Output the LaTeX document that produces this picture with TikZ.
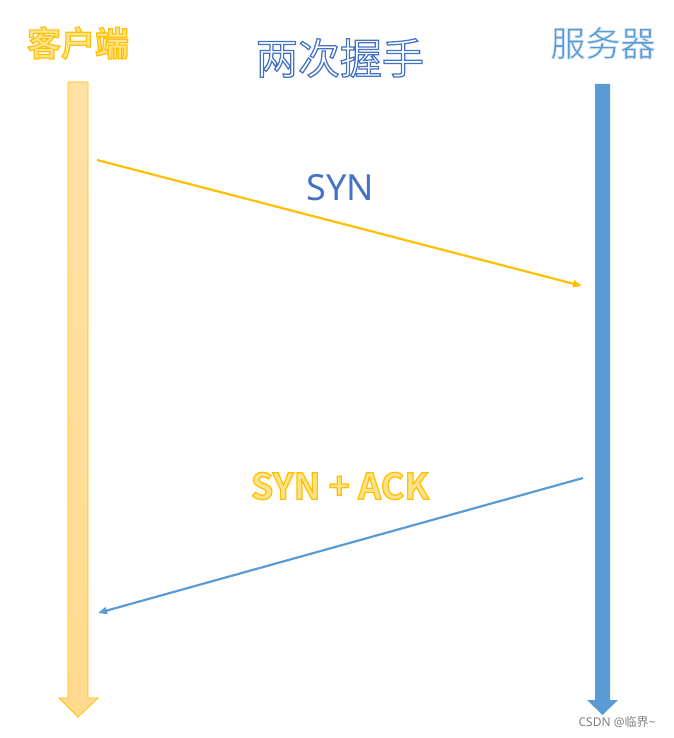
\documentclass[tikz,border=0pt]{standalone}
\usepackage{fontspec}
\setmainfont{Noto Sans}
\newfontfamily\cjk{Noto Sans CJK SC}
\newfontfamily\cjkout[FakeBold=3]{Noto Sans CJK SC}
\newfontfamily\cjksout[FakeBold=2]{Noto Sans CJK SC}
\newfontfamily\cjkbout[FakeBold=3.5]{Noto Sans CJK SC Bold}
\newfontfamily\latbout[FakeBold=3.5]{Noto Sans CJK SC Bold}
\usetikzlibrary{arrows.meta}
\definecolor{gold}{HTML}{FFC000}
\definecolor{lgold}{HTML}{FFDA8F}
\definecolor{pgold}{HTML}{FFE38C}
\definecolor{sky}{HTML}{5B9BD5}
\definecolor{navy}{HTML}{4472C4}
% #1 fill colour, #2 stroke colour as rgb numbers, #3 text
\newcommand{\olt}[3]{{\color{#1}\special{pdf:literal direct #2 RG}#3}}
\tikzset{
  lbl/.style={inner sep=0pt, anchor=center},
  msg/.style={line width=2.2pt, -{Triangle[length=9pt,width=7pt]}},
}
\begin{document}
\begin{tikzpicture}[x=1pt,y=-1pt]
\useasboundingbox (0,0) rectangle (673,738);
% client life line
\shade[top color=lgold!80!white, bottom color=lgold, draw=gold, line width=0.8pt]
  (68,82) -- (88,82) -- (88,698) -- (98,698) -- (78,717) -- (59,698) -- (68,698) -- cycle;
% server life line
\fill[sky] (595,84) -- (610,84) -- (610,700) -- (618,700) -- (602.5,715) -- (587,700) -- (595,700) -- cycle;
% endpoints
\coordinate (c1) at (97,160);
\coordinate (s1) at (582,286);
\coordinate (s2) at (583,478);
\coordinate (c2) at (98,613);
\draw[msg, gold] (c1) -- (s1);
\draw[msg, sky] (s2) -- (c2);
% labels
\node[lbl] (client) at (78,43) {\cjkbout\fontsize{34}{34}\selectfont\olt{pgold}{1 0.753 0}{客户端}};
\node[lbl] (title) at (340,58) {\cjkout\fontsize{42}{42}\selectfont\olt{white}{0.267 0.447 0.769}{两次握手}};
\node[lbl] (server) at (603,43) {\cjksout\fontsize{35}{35}\selectfont\olt{sky}{0.82 0.89 0.96}{服务器}};
\node[lbl, text=navy] (syn) at (340,188) {\fontsize{36}{36}\selectfont SYN};
\node[lbl] (synack) at (340,486) {\latbout\fontsize{36}{36}\selectfont\olt{pgold}{1 0.753 0}{SYN + ACK}};
\node[lbl, text=gray] (mark) at (617,722) {\fontsize{12}{12}\selectfont CSDN @{\cjk 临界}\textasciitilde};
\end{tikzpicture}
\end{document}
